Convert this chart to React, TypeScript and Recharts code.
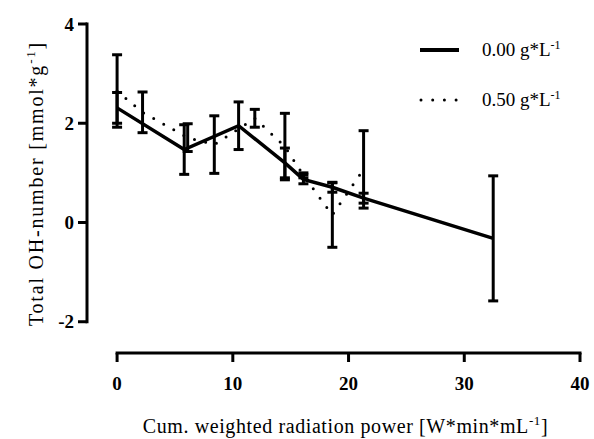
import { LineChart, Line, XAxis, YAxis, ErrorBar, ReferenceLine } from 'recharts';

// cumulative weighted radiation power (x) and total OH-number (mean, sd)
const solidX = [0, 5.8, 10.5, 14.5, 16.1, 18.6, 21.3, 32.5];
const solidY = [2.31, 1.47, 1.95, 1.2, 0.87, 0.71, 0.49, -0.32];
const solidErr = [0.31, 0.5, 0.48, 0.3, 0.09, 0.1, 0.1, 1.26];

const dottedX = [0, 2.2, 6.1, 8.4, 11.9, 14.5, 16.1, 18.6, 21.3];
const dottedY = [2.65, 2.22, 1.71, 1.57, 2.1, 1.53, 0.95, 0.15, 1.07];
const dottedErr = [0.73, 0.41, 0.28, 0.58, 0.18, 0.67, 0.05, 0.65, 0.78];

const xTicks = [0, 10, 20, 30, 40];
const yTicks = [-2, 0, 2, 4];
const seriesNames = ['0.00 g*L', '0.50 g*L'];

// axis lines sit a bit away from the data area (Prism style)
const X_MIN = -2.6;
const Y_MIN = -2.63;

const FONT = '"Liberation Serif", "Times New Roman", serif';

const solidData = solidX.map((x, i) => ({ x, y: solidY[i], err: solidErr[i] }));
const dottedData = dottedX.map((x, i) => ({ x, y: dottedY[i], err: dottedErr[i] }));

function XTick({ x, y, payload }: any) {
    return (
        <text x={x} y={y + 28} textAnchor="middle" fontFamily={FONT} fontWeight="bold" fontSize={19} fill="#000">
            {payload.value}
        </text>
    );
}

function YTick({ x, y, payload }: any) {
    return (
        <text x={x} y={y + 6.5} textAnchor="end" fontFamily={FONT} fontWeight="bold" fontSize={19} fill="#000">
            {payload.value}
        </text>
    );
}

function XTitle({ viewBox }: any) {
    const cx = viewBox.x + viewBox.width / 2 + 12;
    return (
        <text x={cx} y={viewBox.y + 80} textAnchor="middle" fontFamily={FONT} fontSize={20} letterSpacing={0.6} fill="#000">
            Cum. weighted radiation power [W*min*mL<tspan dy={-8} fontSize={13}>-1</tspan><tspan dy={8}>]</tspan>
        </text>
    );
}

function YTitle({ viewBox }: any) {
    const cx = 43;
    const cy = viewBox.y + viewBox.height / 2 - 5;
    return (
        <text x={cx} y={cy} transform={`rotate(-90 ${cx} ${cy})`} textAnchor="middle" fontFamily={FONT} fontSize={20} letterSpacing={1.8} fill="#000">
            Total OH-number [mmol*g<tspan dy={-8} fontSize={13}>-1</tspan><tspan dy={8}>]</tspan>
        </text>
    );
}

function LegendBox() {
    return (
        <div style={{ position: 'absolute', left: 415, top: 25, fontFamily: FONT, fontSize: 19, color: '#000' }}>
            {seriesNames.map((name, i) => (
                <div key={name} style={{ display: 'flex', alignItems: 'center', height: 50 }}>
                    <svg width={60} height={10}>
                        {i === 0 ? (
                            <line x1={5} y1={5} x2={44} y2={5} stroke="#000" strokeWidth={4} />
                        ) : (
                            <line x1={6} y1={5} x2={42} y2={5} stroke="#000" strokeWidth={3} strokeDasharray="0 11.7" strokeLinecap="round" />
                        )}
                    </svg>
                    <span style={{ marginLeft: 7 }}>
                        {name}
                        <sup style={{ fontSize: 12 }}>-1</sup>
                    </span>
                </div>
            ))}
        </div>
    );
}

export default function App() {
    return (
        <div style={{ position: 'absolute', left: 0, top: 0, width: 594, height: 439, background: '#fff' }}>
            <LineChart width={594} height={439} margin={{ top: 24, right: 14, bottom: 26, left: 27 }}>
                <XAxis
                    type="number"
                    dataKey="x"
                    domain={[X_MIN, 40]}
                    ticks={xTicks}
                    allowDataOverflow
                    axisLine={false}
                    tickLine={{ stroke: '#000', strokeWidth: 3 }}
                    tickSize={9}
                    tickMargin={0}
                    tick={<XTick />}
                    height={60}
                    label={<XTitle />}
                />
                <YAxis
                    type="number"
                    dataKey="y"
                    domain={[Y_MIN, 4]}
                    ticks={yTicks}
                    allowDataOverflow
                    axisLine={false}
                    tickLine={{ stroke: '#000', strokeWidth: 3 }}
                    tickSize={9}
                    tickMargin={4}
                    tick={<YTick />}
                    width={60}
                    label={<YTitle />}
                />
                <ReferenceLine
                    segment={[{ x: X_MIN, y: -2 }, { x: X_MIN, y: 4 }]}
                    stroke="#000"
                    strokeWidth={3}
                    strokeLinecap="square"
                    ifOverflow="visible"
                />
                <ReferenceLine
                    segment={[{ x: 0, y: Y_MIN }, { x: 40, y: Y_MIN }]}
                    stroke="#000"
                    strokeWidth={3}
                    strokeLinecap="square"
                    ifOverflow="visible"
                />
                <Line
                    data={dottedData}
                    dataKey="y"
                    name="0.50"
                    stroke="#000"
                    strokeWidth={3}
                    strokeDasharray="0 11.5"
                    strokeLinecap="round"
                    dot={false}
                    activeDot={false}
                    isAnimationActive={false}
                >
                    <ErrorBar dataKey="err" direction="y" width={5} stroke="#000" strokeWidth={3} />
                </Line>
                <Line
                    data={solidData}
                    dataKey="y"
                    name="0.00"
                    stroke="#000"
                    strokeWidth={3.5}
                    dot={false}
                    activeDot={false}
                    isAnimationActive={false}
                >
                    <ErrorBar dataKey="err" direction="y" width={5} stroke="#000" strokeWidth={3} />
                </Line>
            </LineChart>
            <LegendBox />
        </div>
    );
}
